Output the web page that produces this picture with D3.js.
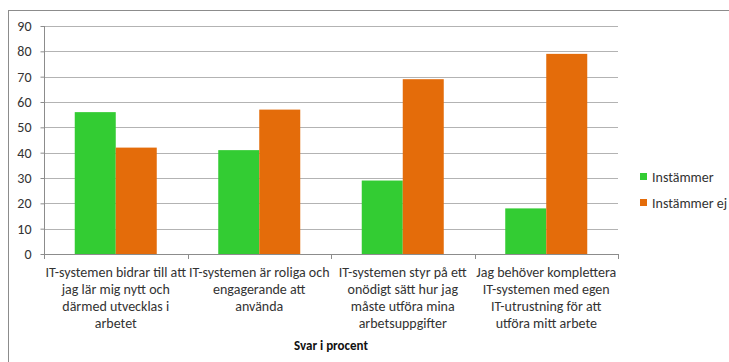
<!DOCTYPE html>
<html>
<head>
<meta charset="utf-8">
<script src="https://cdn.jsdelivr.net/npm/d3@7"></script>
<style>
  html, body { margin: 0; padding: 0; background: #fff; }
  svg { display: block; font-family: Carlito, Lato, "Open Sans", sans-serif; }
</style>
</head>
<body>
<svg id="chart" width="729" height="362"></svg>
<script>
// Survey statements, one array of wrapped lines per category
const categories = [
  ["IT-systemen bidrar till att", "jag lär mig nytt och", "därmed utvecklas i", "arbetet"],
  ["IT-systemen är roliga och", "engagerande att", "använda"],
  ["IT-systemen styr på ett", "onödigt sätt hur jag", "måste utföra mina", "arbetsuppgifter"],
  ["Jag behöver komplettera", "IT-systemen med egen", "IT-utrustning för att", "utföra mitt arbete"]
];
const seriesNames = ["Instämmer", "Instämmer ej"];
const agree    = [56, 41, 29, 18];
const disagree = [42, 57, 69, 79];
const yTicks = [0, 10, 20, 30, 40, 50, 60, 70, 80, 90];
const axisTitle = "Svar i procent";
const colors = ["#33CC33", "#E46C0A"];

const svg = d3.select("#chart");
const plot = { left: 44, right: 618, top: 26, bottom: 254 };
const fontSize = 14;

// Outer chart frame (runs past the right and bottom edges)
svg.append("rect")
  .attr("x", 8.5).attr("y", 10.5)
  .attr("width", 760).attr("height", 400)
  .attr("fill", "none").attr("stroke", "#8c8c8c").attr("stroke-width", 1);

const x0 = d3.scaleBand()
  .domain(d3.range(categories.length))
  .range([plot.left, plot.right])
  .paddingInner(0).paddingOuter(0);

const x1 = d3.scaleBand()
  .domain(d3.range(seriesNames.length))
  .range([0, x0.bandwidth()])
  .paddingInner(0).paddingOuter(0.75);

const y = d3.scaleLinear().domain([0, 90]).range([plot.bottom, plot.top]);

// Horizontal gridlines
svg.append("g").selectAll("line")
  .data(yTicks.filter(d => d > 0))
  .join("line")
  .attr("x1", plot.left).attr("x2", plot.right)
  .attr("y1", d => Math.round(y(d)) + 0.5).attr("y2", d => Math.round(y(d)) + 0.5)
  .attr("stroke", "#b3b3b3").attr("stroke-width", 1);

// Bars
const data = categories.map((c, i) => [agree[i], disagree[i]]);
svg.append("g").selectAll("g")
  .data(data)
  .join("g")
  .attr("transform", (d, i) => `translate(${x0(i)},0)`)
  .selectAll("rect")
  .data(d => d)
  .join("rect")
  .attr("x", (d, j) => x1(j))
  .attr("width", x1.bandwidth())
  .attr("y", d => y(d))
  .attr("height", d => y(0) - y(d))
  .attr("fill", (d, j) => colors[j]);

// Y axis
const yAxis = svg.append("g")
  .attr("transform", `translate(${plot.left + 0.5},0)`)
  .call(d3.axisLeft(y).tickValues(yTicks).tickSize(4).tickPadding(9));
yAxis.select(".domain").attr("stroke", "#8c8c8c").attr("d", `M0,${plot.top}V${plot.bottom}`);
yAxis.selectAll(".tick line").attr("stroke", "#8c8c8c");
yAxis.selectAll(".tick text")
  .attr("fill", "#333").attr("font-size", fontSize)
  .attr("font-family", "Carlito, Lato, 'Open Sans', sans-serif");

// X axis baseline with tick marks at category boundaries
const xg = svg.append("g");
xg.append("line")
  .attr("x1", plot.left).attr("x2", plot.right)
  .attr("y1", plot.bottom + 0.5).attr("y2", plot.bottom + 0.5)
  .attr("stroke", "#8c8c8c");
xg.selectAll("line.tk")
  .data(d3.range(categories.length + 1))
  .join("line").attr("class", "tk")
  .attr("x1", i => Math.round(plot.left + i * x0.bandwidth()) + 0.5)
  .attr("x2", i => Math.round(plot.left + i * x0.bandwidth()) + 0.5)
  .attr("y1", plot.bottom).attr("y2", plot.bottom + 5)
  .attr("stroke", "#8c8c8c");

// Category labels
const lab = svg.append("g").selectAll("text")
  .data(categories)
  .join("text")
  .attr("text-anchor", "middle")
  .attr("font-size", fontSize)
  .attr("fill", "#333")
  .attr("transform", (d, i) => `translate(${x0(i) + x0.bandwidth() / 2},277)`);
lab.selectAll("tspan")
  .data(d => d)
  .join("tspan")
  .attr("x", 0)
  .attr("y", (d, k) => k * 17)
  .text(d => d);

// Axis title
svg.append("text")
  .attr("x", (plot.left + plot.right) / 2).attr("y", 350)
  .attr("text-anchor", "middle")
  .attr("font-size", 13).attr("font-weight", "bold").attr("fill", "#111")
  .text(axisTitle);

// Legend
const leg = svg.append("g").selectAll("g")
  .data(seriesNames)
  .join("g")
  .attr("transform", (d, i) => `translate(640,${173 + i * 26})`);
leg.append("rect").attr("width", 7).attr("height", 7).attr("fill", (d, i) => colors[i]);
leg.append("text")
  .attr("x", 12).attr("y", 8.5)
  .attr("font-size", fontSize).attr("fill", "#333")
  .text(d => d);
</script>
</body>
</html>
